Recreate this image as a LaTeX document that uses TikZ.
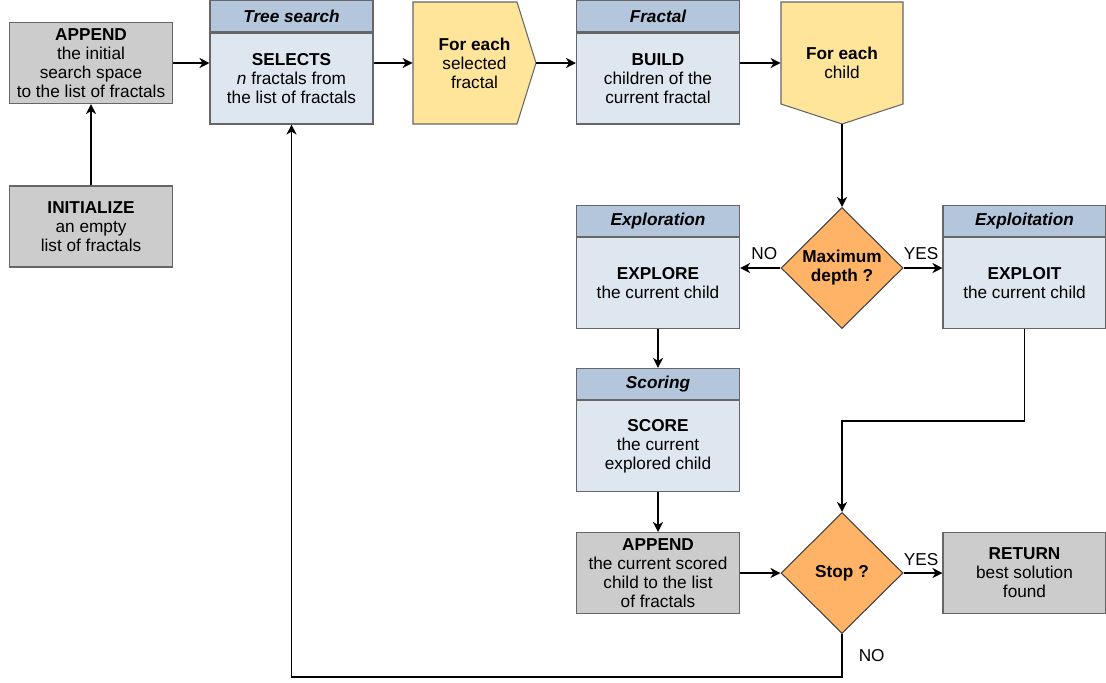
\documentclass[tikz,border=0pt]{standalone}
\usepackage{fontspec}
\setmainfont{Liberation Sans}
\usetikzlibrary{positioning,shapes.geometric,arrows.meta}
\definecolor{greyfill}{HTML}{CCCCCC}
\definecolor{lanehead}{HTML}{B3C6DC}
\definecolor{lanebody}{HTML}{DEE6EF}
\definecolor{loopfill}{HTML}{FFE599}
\definecolor{testfill}{HTML}{FFB366}
\tikzset{
  base/.style={draw=black!60, line width=0.6pt, align=center, inner sep=2pt,
    font=\fontsize{9.8}{10.8}\selectfont},
  greybox/.style={base, fill=greyfill, minimum width=3.26cm, minimum height=1.62cm},
  lane/.style={base, fill=lanebody, minimum width=3.26cm, minimum height=1.82cm},
  lanehd/.style={base, fill=lanehead, minimum width=3.26cm, minimum height=0.62cm,
    font=\fontsize{9.8}{10.8}\selectfont\bfseries\itshape},
  loopshape/.style={draw=black!60, line width=0.6pt, fill=loopfill},
  looptext/.style={align=center, inner sep=0pt, font=\fontsize{9.8}{10.8}\selectfont},
  test/.style={base, draw=black!75, fill=testfill, diamond, inner sep=0pt, minimum width=2.44cm,
    minimum height=2.42cm, font=\fontsize{9.8}{10.8}\selectfont\bfseries},
  line/.style={->, line width=0.85pt},
  lbl/.style={font=\fontsize{9.8}{10.8}\selectfont, inner sep=2pt}
}
\begin{document}
\begin{tikzpicture}[>={Stealth[length=2mm,width=2mm,inset=0.6mm]}]
\useasboundingbox (0,0) rectangle (22.12,-13.64);

% left column
\node[greybox] (append) at (1.82,-1.26) {\textbf{APPEND}\\the initial\\search space\\to the list of fractals};
\node[greybox] (init) at (1.82,-4.53) {\textbf{INITIALIZE}\\an empty\\list of fractals};

% top row
\node[lane] (search) at (5.83,-1.57) {\textbf{SELECTS}\\\textit{n} fractals from\\the list of fractals};
\node[lanehd, above=0pt of search] (searchhd) {Tree search};
\draw[loopshape] (8.26,-0.04) -- (10.34,-0.04) -- (10.72,-1.26) -- (10.34,-2.48) -- (8.26,-2.48) -- cycle;
\node[looptext, minimum width=2.46cm, minimum height=2.44cm] (each1) at (9.49,-1.26) {\textbf{For each}\\selected\\fractal};
\node[lane] (build) at (13.16,-1.57) {\textbf{BUILD}\\children of the\\current fractal};
\node[lanehd, above=0pt of build] (buildhd) {Fractal};
\draw[loopshape] (15.62,-0.04) -- (18.06,-0.04) -- (18.06,-2.08) -- (16.84,-2.48) -- (15.62,-2.08) -- cycle;
\node[looptext, minimum width=2.44cm, minimum height=2.44cm] (each2) at (16.84,-1.26) {\textbf{For each}\\child};

% middle
\node[test] (depth) at (16.84,-5.36) {Maximum\\depth ?};
\node[lane] (explore) at (13.16,-5.66) {\textbf{EXPLORE}\\the current child};
\node[lanehd, above=0pt of explore] (explorehd) {Exploration};
\node[lane] (exploit) at (20.49,-5.66) {\textbf{EXPLOIT}\\the current child};
\node[lanehd, above=0pt of exploit] (exploithd) {Exploitation};
\node[lane] (score) at (13.16,-8.92) {\textbf{SCORE}\\the current\\explored child};
\node[lanehd, above=0pt of score] (scorehd) {Scoring};

% bottom row
\node[greybox] (add) at (13.16,-11.46) {\textbf{APPEND}\\the current scored\\child to the list\\of fractals};
\node[test] (stop) at (16.84,-11.46) {Stop ?};
\node[greybox] (ret) at (20.49,-11.46) {\textbf{RETURN}\\best solution\\found};

% connectors
\draw[line] (init) -- (append);
\draw[line] (append) -- (append -| search.west);
\draw[line] (search.east |- each1) -- (each1);
\draw[line] (each1) -- (each1 -| build.west);
\draw[line] (build.east |- each2) -- (each2);
\draw[line] (each2) -- (depth);
\draw[line] (depth) -- node[lbl, above, yshift=0.08cm, pos=0.4]{NO} (depth -| explore.east);
\draw[line] (depth) -- node[lbl, above, yshift=0.08cm, pos=0.45]{YES} (depth -| exploit.west);
\draw[line] (explore) -- (scorehd);
\draw[line] (score) -- (add);
\draw[line] (add) -- (add -| stop.west);
\draw[line] (stop) -- node[lbl, above, yshift=0.06cm, pos=0.45]{YES} (stop -| ret.west);
\draw[line] (exploit.south) -- ++(0,-1.84) -| (stop.north);
\draw[line] (stop.south) -- node[lbl, right, pos=0.5, xshift=0.25cm]{NO} ++(0,-0.86) -| (search.south);

\end{tikzpicture}
\end{document}
